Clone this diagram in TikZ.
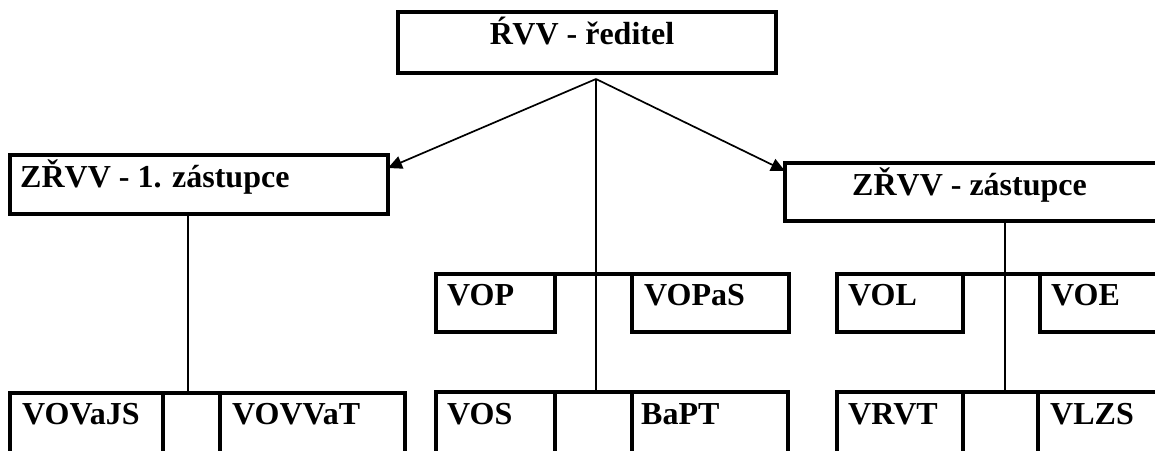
\documentclass[tikz,border=0pt]{standalone}
\usepackage{fontspec}
\setmainfont{Liberation Serif}
\usetikzlibrary{arrows.meta,calc}
\begin{document}
\begin{tikzpicture}[x=1pt,y=-1pt,
  box/.style={draw,line width=3.7pt,rectangle,outer sep=0pt,inner sep=0pt,anchor=north west},
  lbl/.style={anchor=base west,inner sep=0pt,font=\bfseries\fontsize{32}{36}\selectfont},
  conn/.style={line width=1.7pt},
  arr/.style={conn,-{Triangle[length=14pt,width=13pt]}}]
\useasboundingbox (0,0) rectangle (1155,450);
\clip (0,0) rectangle (1155,450);
% top level
\node[box,minimum width=378pt,minimum height=61pt] (top) at (398,12) {};
\node[lbl,anchor=base] (ttop) at (582,44) {Ŕ\kern-0.5ptVV - ředitel};
% second level
\node[box,minimum width=378pt,minimum height=59pt] (lbox) at (10,155) {};
\node[lbl] (tl) at (20,187) {ZŘVV - 1. zástupce};
\node[box,minimum width=390pt,minimum height=58pt] (rbox) at (785,163) {};
\node[lbl] (tr) at (852,195) {ZŘVV - zástupce};
% middle row
\node[box,minimum width=119pt,minimum height=58pt] (vop) at (436,274) {};
\node[box,minimum width=157pt,minimum height=58pt] (vopas) at (632,274) {};
\node[box,minimum width=126pt,minimum height=58pt] (vol) at (837,274) {};
\node[box,minimum width=140pt,minimum height=58pt] (voe) at (1040,274) {};
\node[lbl] (tvop) at (447,305) {VOP};
\node[lbl] (tvopas) at (644,305) {VOPaS};
\node[lbl] (tvol) at (848,305) {VOL};
\node[lbl] (tvoe) at (1051,305) {VOE};
% bottom row
\node[box,minimum width=153pt,minimum height=80pt] (b1) at (10,393) {};
\node[box,minimum width=57pt,minimum height=80pt] (b2) at (163,393) {};
\node[box,minimum width=185pt,minimum height=80pt] (b3) at (220,393) {};
\node[box,minimum width=119pt,minimum height=80pt] (b4) at (436,392) {};
\node[box,minimum width=77pt,minimum height=80pt] (b5) at (555,392) {};
\node[box,minimum width=156pt,minimum height=80pt] (b6) at (632,392) {};
\node[box,minimum width=126pt,minimum height=80pt] (b7) at (837,392) {};
\node[box,minimum width=75pt,minimum height=80pt] (b8) at (963,392) {};
\node[box,minimum width=140pt,minimum height=80pt] (b9) at (1038,392) {};
\node[lbl] (tb1) at (22,424) {VOVaJS};
\node[lbl] (tb3) at (232,424) {VOVVaT};
\node[lbl] (tb4) at (447,424) {VOS};
\node[lbl] (tb6) at (641,424) {BaPT};
\node[lbl] (tb7) at (848,424) {VRVT};
\node[lbl] (tb9) at (1050,424) {VLZS};
% joining top lines of middle row
\draw[line width=3.7pt] (vop.north east) -- (vopas.north west);
\draw[line width=3.7pt] (vol.north east) -- (voe.north west);
% connectors
\coordinate (apex) at ($(top.south)+(9,6)$);
\coordinate (lfoot) at (188,393);
\coordinate (rfoot) at (1005,392);
\draw[arr] (apex) -- ($(lbox.north east)+(0,13)$);
\draw[arr] (apex) -- ($(rbox.north west)+(0,8)$);
\draw[conn] (apex) -- (apex |- b5.north);
\draw[conn] (lbox.south -| lfoot) -- (lfoot);
\draw[conn] (rbox.south -| rfoot) -- (rfoot);
\end{tikzpicture}
\end{document}
